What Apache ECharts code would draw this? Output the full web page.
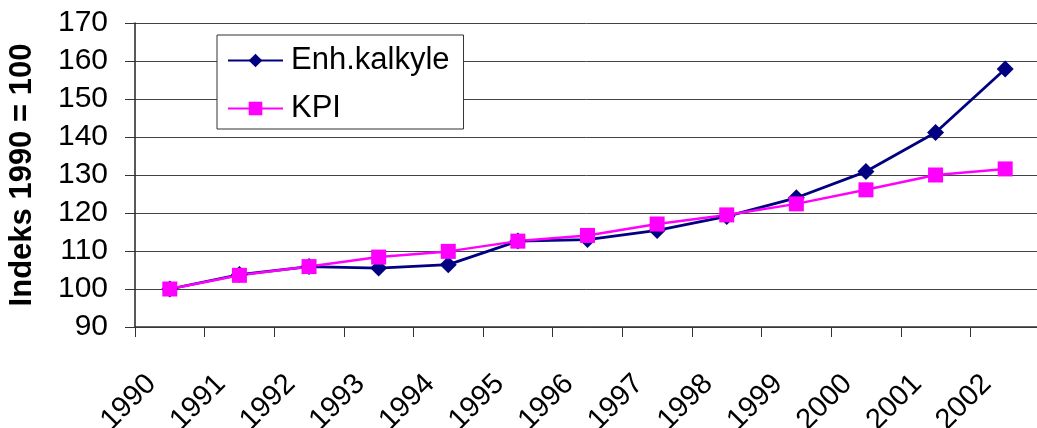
<!DOCTYPE html>
<html>
<head>
<meta charset="utf-8">
<script src="https://cdn.jsdelivr.net/npm/echarts@6/dist/echarts.min.js"></script>
<style>
html,body{margin:0;padding:0;background:#fff;}
#chart{width:1037px;height:428px;}
</style>
</head>
<body>
<div id="chart"></div>
<script>
const years = ['1990','1991','1992','1993','1994','1995','1996','1997','1998','1999','2000','2001','2002'];
const enhKalkyle = [100, 103.8, 105.9, 105.5, 106.4, 112.6, 113.0, 115.4, 119.1, 124.0, 130.9, 141.2, 157.9];
const kpi = [100, 103.6, 105.9, 108.4, 109.9, 112.6, 114.1, 117.1, 119.5, 122.4, 126.1, 130.0, 131.6];
const yTicks = {min: 90, max: 170, interval: 10};

const chart = echarts.init(document.getElementById('chart'), null, {renderer: 'canvas'});
const font = '"Liberation Sans", Arial, sans-serif';
chart.setOption({
  animation: false,
  backgroundColor: '#fff',
  grid: {left: 135, top: 23, width: 905, height: 304, containLabel: false, outerBoundsMode: 'none'},
  legend: {
    orient: 'vertical',
    left: 217, top: 35,
    backgroundColor: '#fff',
    borderColor: '#333',
    borderWidth: 1,
    padding: [10, 14, 5, 10],
    itemWidth: 55,
    itemHeight: 17,
    itemGap: 17,
    textStyle: {fontFamily: font, fontSize: 31, color: '#000', lineHeight: 30, padding: [0, 0, 0, 3]},
    data: ['Enh.kalkyle', 'KPI']
  },
  xAxis: {
    type: 'category',
    data: years,
    boundaryGap: true,
    axisLine: {show: true, lineStyle: {color: '#333', width: 1.5}},
    axisTick: {show: true, length: 10, lineStyle: {color: '#333'}},
    axisLabel: {rotate: 45, margin: 34, fontFamily: font, fontSize: 29, color: '#000', padding: [0, 26, 0, 0], interval: 0, hideOverlap: false},
    splitLine: {show: false}
  },
  yAxis: {
    type: 'value',
    min: yTicks.min, max: yTicks.max, interval: yTicks.interval,
    name: 'Indeks 1990 = 100',
    nameLocation: 'middle',
    nameGap: 97,
    nameTextStyle: {fontFamily: font, fontSize: 31, fontWeight: 'bold', color: '#000'},
    axisLine: {show: true, lineStyle: {color: '#222', width: 1.5}},
    axisTick: {show: true, length: 10, inside: false, lineStyle: {color: '#333'}},
    axisLabel: {margin: 27, fontFamily: font, fontSize: 30, color: '#000'},
    splitLine: {show: true, lineStyle: {color: '#444', width: 1}}
  },
  series: [
    {
      name: 'Enh.kalkyle', type: 'line', data: enhKalkyle,
      symbol: 'diamond', symbolSize: 17,
      lineStyle: {color: '#000080', width: 2.8},
      itemStyle: {color: '#000080'}
    },
    {
      name: 'KPI', type: 'line', data: kpi,
      symbol: 'rect', symbolSize: 15,
      lineStyle: {color: '#FF00FF', width: 2.5},
      itemStyle: {color: '#FF00FF'}
    }
  ]
});
</script>
</body>
</html>
